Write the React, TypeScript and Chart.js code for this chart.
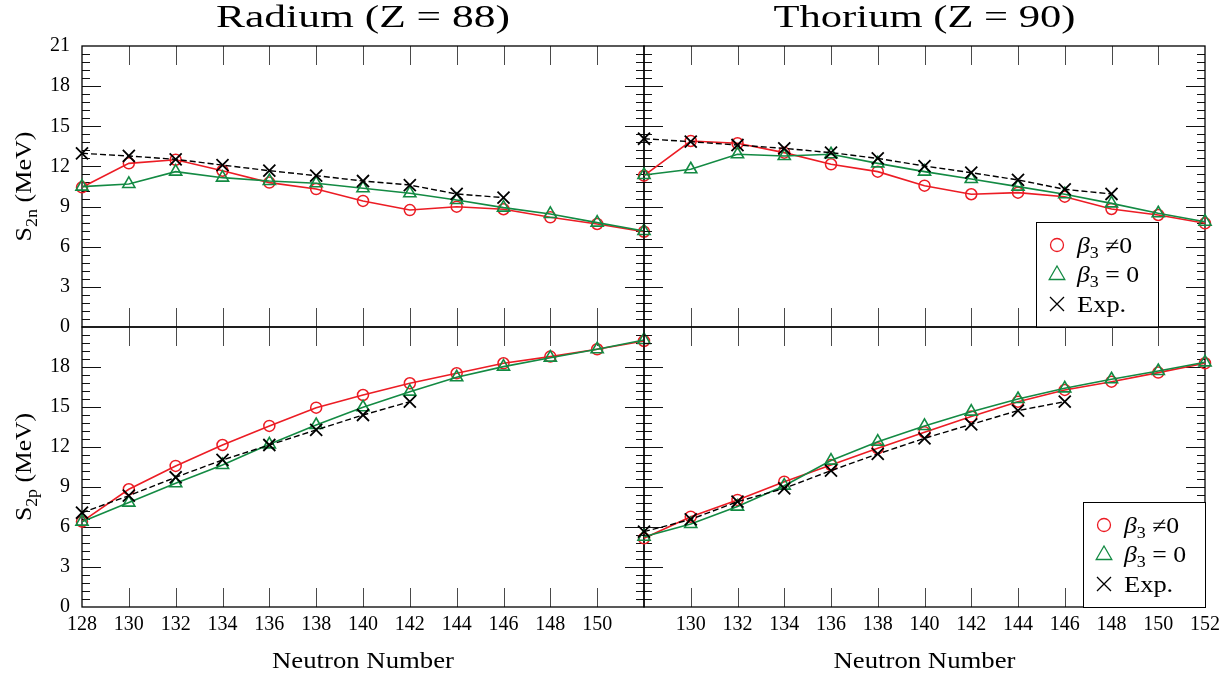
import React, { useEffect, useRef } from 'react';
import { Chart, registerables } from 'chart.js';

Chart.register(...registerables);

// ---------------- data ----------------
const neutronNumbers = [128, 130, 132, 134, 136, 138, 140, 142, 144, 146, 148, 150, 152];

// Radium (Z = 88), S2n
const raS2nBeta3 = [10.44, 12.23, 12.5, 11.68, 10.79, 10.31, 9.42, 8.74, 8.99, 8.8, 8.2, 7.7, 7.12];
const raS2nNoBeta3 = [10.49, 10.69, 11.61, 11.16, 10.91, 10.74, 10.37, 9.99, 9.49, 8.92, 8.45, 7.8, 7.17];
const raS2nExp = [12.98, 12.78, 12.53, 12.1, 11.68, 11.31, 10.91, 10.61, 9.94, 9.67];

// Thorium (Z = 90), S2n
const thS2nBeta3 = [11.31, 13.9, 13.73, 13.03, 12.16, 11.61, 10.56, 9.92, 10.04, 9.74, 8.82, 8.37, 7.75];
const thS2nNoBeta3 = [11.36, 11.79, 12.91, 12.78, 12.91, 12.23, 11.61, 11.06, 10.49, 9.92, 9.24, 8.5, 7.87];
const thS2nExp = [14.07, 13.85, 13.6, 13.35, 13.03, 12.6, 12.03, 11.53, 10.99, 10.29, 9.94];

// Radium (Z = 88), S2p
const raS2pBeta3 = [6.4, 8.83, 10.58, 12.15, 13.58, 14.95, 15.9, 16.78, 17.53, 18.28, 18.78, 19.33, 19.95];
const raS2pNoBeta3 = [6.4, 7.83, 9.28, 10.65, 12.2, 13.65, 14.98, 16.15, 17.23, 18.03, 18.7, 19.33, 20.03];
const raS2pExp = [7.07, 8.35, 9.73, 11.03, 12.15, 13.28, 14.4, 15.4];

// Thorium (Z = 90), S2p
const thS2pBeta3 = [5.15, 6.77, 8.03, 9.4, 10.65, 11.9, 13.1, 14.28, 15.4, 16.28, 16.9, 17.58, 18.28];
const thS2pNoBeta3 = [5.27, 6.22, 7.53, 9.1, 10.98, 12.4, 13.58, 14.65, 15.6, 16.4, 17.08, 17.7, 18.35];
const thS2pExp = [5.65, 6.57, 7.9, 8.9, 10.23, 11.48, 12.65, 13.7, 14.73, 15.4];

const xMin = 128;
const xMax = 152;
const yMin = 0;
const yMax = 21;
const xMajorStep = 2;
const yMajorStep = 3;
const yMinorStep = 0.6;

const titleRadium = 'Radium (Z = 88)';
const titleThorium = 'Thorium (Z = 90)';
const xTitle = 'Neutron Number';

// ---------------- styles ----------------
const SERIF = '"Liberation Serif", "DejaVu Serif", "Times New Roman", serif';
const RED = '#ec1c24';
const GREEN = '#138a43';
const W = 1232;
const H = 677;

type Seg = { t: string; size: number; italic?: boolean; dy?: number };

function segFont(s: Seg) {
  return `${s.italic ? 'italic ' : ''}${s.size}px ${SERIF}`;
}

function drawSegs(
  ctx: CanvasRenderingContext2D,
  segs: Seg[],
  x: number,
  y: number,
  align: 'left' | 'center',
  opts: { sx?: number; width?: number }
) {
  const widths = segs.map((s) => {
    ctx.font = segFont(s);
    return ctx.measureText(s.t).width;
  });
  const natural = widths.reduce((a, b) => a + b, 0);
  const sx = opts.width ? opts.width / natural : opts.sx ?? 1;
  const total = natural * sx;
  const x0 = align === 'center' ? x - total / 2 : x;
  ctx.save();
  ctx.translate(x0, y);
  ctx.scale(sx, 1);
  ctx.fillStyle = '#000';
  ctx.textAlign = 'left';
  ctx.textBaseline = 'alphabetic';
  let cx = 0;
  segs.forEach((s, i) => {
    ctx.font = segFont(s);
    ctx.fillText(s.t, cx, s.dy ?? 0);
    cx += widths[i];
  });
  ctx.restore();
}

function drawMarker(ctx: CanvasRenderingContext2D, kind: string, x: number, y: number, r: number, color: string) {
  ctx.save();
  ctx.strokeStyle = color;
  ctx.lineWidth = 1.3;
  ctx.beginPath();
  if (kind === 'circle') {
    ctx.arc(x, y, r, 0, Math.PI * 2);
  } else if (kind === 'triangle') {
    ctx.moveTo(x, y - r);
    ctx.lineTo(x + r * 0.866, y + r * 0.5);
    ctx.lineTo(x - r * 0.866, y + r * 0.5);
    ctx.closePath();
  } else {
    ctx.moveTo(x - r, y - r);
    ctx.lineTo(x + r, y + r);
    ctx.moveTo(x + r, y - r);
    ctx.lineTo(x - r, y + r);
  }
  ctx.stroke();
  ctx.restore();
}

type Panel = {
  beta3: number[];
  noBeta3: number[];
  exp: number[];
  padding: { left: number; top: number; right: number; bottom: number };
  showX: boolean;
  showY: boolean;
  xHide: number[];
  yHide: number[];
  title?: string;
  titleWidth?: number;
  ySub?: string;
  yTitleWidth?: number;
  xTitle?: boolean;
  legendRightInset?: number;
};

const PANELS: Panel[] = [
  {
    beta3: raS2nBeta3, noBeta3: raS2nNoBeta3, exp: raS2nExp,
    padding: { left: 0, top: 46, right: 588, bottom: 350 },
    showX: false, showY: true, xHide: [], yHide: [],
    title: titleRadium, titleWidth: 294, ySub: '2n', yTitleWidth: 110,
  },
  {
    beta3: thS2nBeta3, noBeta3: thS2nNoBeta3, exp: thS2nExp,
    padding: { left: 644, top: 46, right: 27, bottom: 350 },
    showX: false, showY: false, xHide: [], yHide: [],
    title: titleThorium, titleWidth: 302, legendRightInset: 47,
  },
  {
    beta3: raS2pBeta3, noBeta3: raS2pNoBeta3, exp: raS2pExp,
    padding: { left: 0, top: 327, right: 588, bottom: 30 },
    showX: true, showY: true, xHide: [152], yHide: [21],
    ySub: '2p', yTitleWidth: 108, xTitle: true,
  },
  {
    beta3: thS2pBeta3, noBeta3: thS2pNoBeta3, exp: thS2pExp,
    padding: { left: 644, top: 327, right: 27, bottom: 30 },
    showX: true, showY: false, xHide: [128], yHide: [],
    xTitle: true, legendRightInset: 0,
  },
];

function toPoints(values: number[]) {
  return values.map((v, i) => ({ x: neutronNumbers[i], y: v }));
}

function decoPlugin(p: Panel) {
  return {
    id: 'panelDeco',
    beforeDatasetsDraw(chart: any) {
      const { ctx, chartArea: a, scales } = chart;
      const xs = scales.x;
      const ys = scales.y;
      ctx.save();
      // x ticks (inward, top and bottom)
      ctx.strokeStyle = '#4a4a4a';
      ctx.lineWidth = 1;
      ctx.beginPath();
      for (let v = xMin + xMajorStep; v < xMax; v += xMajorStep) {
        const px = Math.round(xs.getPixelForValue(v)) + 0.5;
        ctx.moveTo(px, a.top);
        ctx.lineTo(px, a.top + 19);
        ctx.moveTo(px, a.bottom);
        ctx.lineTo(px, a.bottom - 19);
      }
      ctx.stroke();
      // y ticks (inward, left and right)
      ctx.strokeStyle = '#111';
      ctx.beginPath();
      const n = Math.round((yMax - yMin) / yMinorStep);
      const per = Math.round(yMajorStep / yMinorStep);
      for (let k = 1; k < n; k++) {
        const v = yMin + k * yMinorStep;
        const len = k % per === 0 ? 19 : 8;
        const py = Math.round(ys.getPixelForValue(v)) + 0.5;
        ctx.moveTo(a.left, py);
        ctx.lineTo(a.left + len, py);
        ctx.moveTo(a.right, py);
        ctx.lineTo(a.right - len, py);
      }
      ctx.stroke();
      // frame
      ctx.strokeStyle = '#000';
      ctx.lineWidth = 1.3;
      ctx.strokeRect(a.left, a.top, a.right - a.left, a.bottom - a.top);
      ctx.restore();
    },
    afterDraw(chart: any) {
      const { ctx, chartArea: a } = chart;
      const cx = (a.left + a.right) / 2;
      const cy = (a.top + a.bottom) / 2;
      if (p.title) {
        drawSegs(ctx, [{ t: p.title, size: 32 }], cx, 27, 'center', { width: p.titleWidth });
      }
      if (p.ySub) {
        ctx.save();
        ctx.translate(31, cy);
        ctx.rotate(-Math.PI / 2);
        drawSegs(
          ctx,
          [
            { t: 'S', size: 23 },
            { t: p.ySub, size: 16, dy: 6 },
            { t: ' (MeV)', size: 23 },
          ],
          0, 0, 'center', { width: p.yTitleWidth }
        );
        ctx.restore();
      }
      if (p.xTitle) {
        drawSegs(ctx, [{ t: xTitle, size: 23 }], cx, 668, 'center', { width: 182 });
      }
      if (p.legendRightInset !== undefined) {
        const bw = 122;
        const bh = 105;
        const bx = a.right - p.legendRightInset - bw;
        const by = a.bottom - bh;
        ctx.save();
        ctx.fillStyle = '#fff';
        ctx.fillRect(bx, by, bw, bh);
        ctx.strokeStyle = '#000';
        ctx.lineWidth = 1;
        ctx.strokeRect(bx + 0.5, by + 0.5, bw, bh);
        ctx.restore();
        const mx = bx + 21;
        const tx = bx + 41;
        const rows = [by + 23, by + 53, by + 82];
        drawMarker(ctx, 'circle', mx, rows[0], 6.5, RED);
        drawMarker(ctx, 'triangle', mx, rows[1], 9, GREEN);
        drawMarker(ctx, 'cross', mx, rows[2], 7, '#000');
        drawSegs(ctx, [{ t: '\u03B2', size: 23, italic: true }, { t: '3', size: 16, dy: 5 }, { t: ' \u22600', size: 23 }], tx, rows[0] + 7.5, 'left', { sx: 1.12 });
        drawSegs(ctx, [{ t: '\u03B2', size: 23, italic: true }, { t: '3', size: 16, dy: 5 }, { t: ' = 0', size: 23 }], tx, rows[1] + 7, 'left', { sx: 1.12 });
        drawSegs(ctx, [{ t: 'Exp.', size: 23 }], tx, rows[2] + 7.5, 'left', { sx: 1.15 });
      }
    },
  };
}

function buildConfig(p: Panel): any {
  const tickFont = { family: SERIF, size: 20 };
  return {
    type: 'line',
    data: {
      datasets: [
        {
          label: 'Exp.',
          data: toPoints(p.exp),
          borderColor: '#000',
          borderDash: [6, 3],
          borderWidth: 1.4,
          pointStyle: 'crossRot',
          pointRadius: 8.5,
          pointBorderWidth: 1.8,
          pointBorderColor: '#000',
          pointBackgroundColor: 'rgba(0,0,0,0)',
          order: 0,
          clip: false,
          fill: false,
        },
        {
          label: '\u03B23 = 0',
          data: toPoints(p.noBeta3),
          borderColor: GREEN,
          borderWidth: 1.6,
          pointStyle: 'triangle',
          pointRadius: 7,
          pointBorderWidth: 1.6,
          pointBorderColor: GREEN,
          pointBackgroundColor: 'rgba(0,0,0,0)',
          order: 1,
          clip: false,
          fill: false,
        },
        {
          label: '\u03B23 \u2260 0',
          data: toPoints(p.beta3),
          borderColor: RED,
          borderWidth: 1.6,
          pointStyle: 'circle',
          pointRadius: 5.5,
          pointBorderWidth: 1.5,
          pointBorderColor: RED,
          pointBackgroundColor: 'rgba(0,0,0,0)',
          order: 2,
          clip: false,
          fill: false,
        },
      ],
    },
    options: {
      animation: false,
      responsive: false,
      devicePixelRatio: 1,
      events: [],
      layout: { padding: p.padding },
      plugins: {
        legend: { display: false },
        tooltip: { enabled: false },
        title: { display: false },
      },
      scales: {
        x: {
          type: 'linear',
          min: xMin,
          max: xMax,
          display: p.showX,
          grid: { display: false, drawTicks: false },
          border: { display: false },
          ticks: {
            stepSize: xMajorStep,
            autoSkip: false,
            maxRotation: 0,
            minRotation: 0,
            padding: 6,
            color: '#000',
            font: tickFont,
            callback: (v: number) => (p.xHide.includes(v) ? '' : String(v)),
          },
          afterFit: (s: any) => {
            s.height = p.showX ? 40 : 0;
          },
        },
        y: {
          type: 'linear',
          min: yMin,
          max: yMax,
          display: p.showY,
          grid: { display: false, drawTicks: false },
          border: { display: false },
          ticks: {
            stepSize: yMajorStep,
            autoSkip: false,
            padding: 12,
            color: '#000',
            font: tickFont,
            callback: (v: number) => (p.yHide.includes(v) ? '' : String(v)),
          },
          afterFit: (s: any) => {
            s.width = p.showY ? 82 : 0;
          },
        },
      },
    },
    plugins: [decoPlugin(p)],
  };
}

export default function App() {
  const canvases = useRef<(HTMLCanvasElement | null)[]>([]);
  useEffect(() => {
    const charts = PANELS.map((p, i) => new Chart(canvases.current[i] as HTMLCanvasElement, buildConfig(p)));
    return () => charts.forEach((c) => c.destroy());
  }, []);
  return (
    <div style={{ position: 'absolute', left: 0, top: 0, width: W, height: H, background: '#fff' }}>
      {PANELS.map((_, i) => (
        <canvas
          key={i}
          ref={(el) => {
            canvases.current[i] = el;
          }}
          width={W}
          height={H}
          style={{ position: 'absolute', left: 0, top: 0, width: W, height: H }}
        />
      ))}
    </div>
  );
}
